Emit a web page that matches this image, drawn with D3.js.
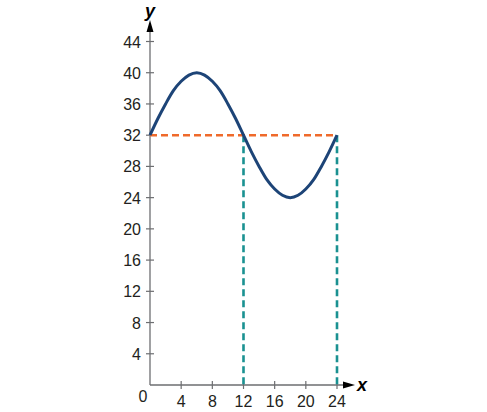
<!DOCTYPE html>
<html><head><meta charset="utf-8">
<script src="https://cdn.jsdelivr.net/npm/d3@7"></script>
<style>
html,body{margin:0;padding:0;background:#fff;}
text{font-family:"Liberation Sans",Arial,sans-serif;}
</style></head>
<body>
<svg id="c" width="487" height="412"></svg>
<script>
// Curve samples (x in hours, y value)
const xs = [0,1,2,3,4,5,6,7,8,9,10,11,12,13,14,15,16,17,18,19,20,21,22,23,24];
const ys = [32,34.1,36,37.7,38.9,39.7,40,39.7,38.9,37.7,36,34.1,32,29.9,28,26.3,25.1,24.3,24,24.3,25.1,26.3,28,29.9,32];
const xTicks = [4,8,12,16,20,24];
const yTicks = [4,8,12,16,20,24,28,32,36,40,44];
const midline = 32;
const dropXs = [12,24];

const svg = d3.select("#c");
const x = d3.scaleLinear().domain([0,24]).range([150,337]);
const y = d3.scaleLinear().domain([0,44]).range([385,41.5]);
const axisColor = "#6d6e71";

// axes
svg.append("line").attr("x1",x(0)).attr("x2",345).attr("y1",y(0)).attr("y2",y(0))
  .attr("stroke",axisColor).attr("stroke-width",1.3);
svg.append("line").attr("x1",x(0)).attr("x2",x(0)).attr("y1",y(0)).attr("y2",31)
  .attr("stroke",axisColor).attr("stroke-width",1.3);
svg.append("path").attr("d",`M${x(0)-3.5},32 L${x(0)},20 L${x(0)+3.5},32 Z`).attr("fill","#000");
svg.append("path").attr("d",`M343,${y(0)-3.5} L355,${y(0)} L343,${y(0)+3.5} Z`).attr("fill","#000");

// ticks
svg.selectAll(".xt").data(xTicks).enter().append("line")
  .attr("x1",d=>x(d)).attr("x2",d=>x(d)).attr("y1",y(0)-4).attr("y2",y(0)+4)
  .attr("stroke",axisColor).attr("stroke-width",1.2);
svg.selectAll(".yt").data(yTicks).enter().append("line")
  .attr("x1",x(0)-4).attr("x2",x(0)+4).attr("y1",d=>y(d)).attr("y2",d=>y(d))
  .attr("stroke",axisColor).attr("stroke-width",1.2);

svg.selectAll(".xl").data(xTicks).enter().append("text")
  .attr("x",d=>x(d)).attr("y",y(0)+22).attr("text-anchor","middle")
  .attr("font-size",16).attr("fill","#231f20").text(d=>d);
svg.selectAll(".yl").data(yTicks).enter().append("text")
  .attr("x",x(0)-9).attr("y",d=>y(d)+6).attr("text-anchor","end")
  .attr("font-size",16).attr("fill","#231f20").text(d=>d);
svg.append("text").attr("x",143).attr("y",y(0)+17).attr("text-anchor","middle")
  .attr("font-size",16).attr("fill","#231f20").text("0");

svg.append("text").attr("x",150).attr("y",17).attr("text-anchor","middle")
  .attr("font-size",18).attr("font-style","italic").attr("font-weight","bold").text("y");
svg.append("text").attr("x",362).attr("y",y(0)+6).attr("text-anchor","middle")
  .attr("font-size",18).attr("font-style","italic").attr("font-weight","bold").text("x");

// dashed lines
svg.selectAll(".drop").data(dropXs).enter().append("line")
  .attr("x1",d=>x(d)).attr("x2",d=>x(d)).attr("y1",y(midline)).attr("y2",y(0))
  .attr("stroke","#1a9191").attr("stroke-width",2.6).attr("stroke-dasharray","7,4");
svg.append("line").attr("x1",x(0)).attr("x2",x(24)).attr("y1",y(midline)).attr("y2",y(midline))
  .attr("stroke","#ef6a2b").attr("stroke-width",2.6).attr("stroke-dasharray","7,4");

// curve
const pts = xs.map((v,i)=>[v,ys[i]]);
svg.append("path").datum(pts)
  .attr("d",d3.line().x(d=>x(d[0])).y(d=>y(d[1])).curve(d3.curveMonotoneX))
  .attr("fill","none").attr("stroke","#1d4477").attr("stroke-width",3);
</script>
</body></html>
